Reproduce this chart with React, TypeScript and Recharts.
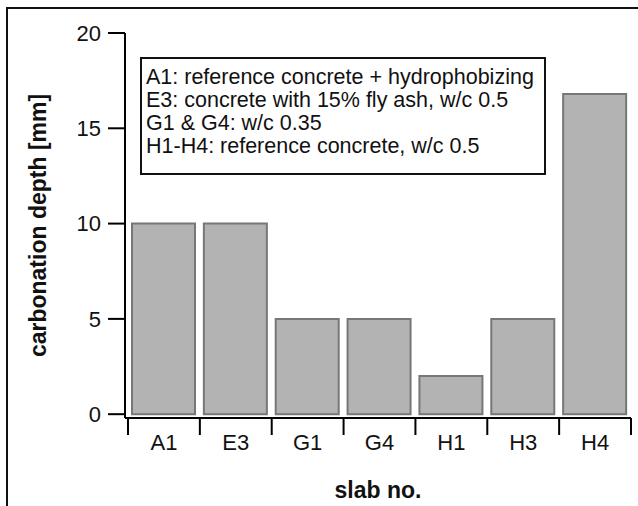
import { BarChart, Bar, XAxis, YAxis } from "recharts";

// slab ids on the x axis
const slabs = ["A1", "E3", "G1", "G4", "H1", "H3", "H4"];
// carbonation depth in mm
const depths = [10, 10, 5, 5, 2, 5, 16.8];
const yTicks = [0, 5, 10, 15, 20];
// text of the note box in the plot
const notes = [
  "A1: reference concrete + hydrophobizing",
  "E3: concrete with 15% fly ash, w/c 0.5",
  "G1 & G4: w/c 0.35",
  "H1-H4: reference concrete, w/c 0.5",
];

const data = slabs.map((slab, i) => ({ slab, depth: depths[i] }));

const FONT = "'Liberation Sans', Arial, sans-serif";
const X_START = 128;
const X_END = 631;
const BAND = (X_END - X_START) / slabs.length;

function SlabTick(props: any) {
  const { x, y, payload, index } = props;
  const last = index === slabs.length - 1;
  return (
    <g>
      <line x1={x - BAND / 2} y1={y} x2={x - BAND / 2} y2={y + 17} stroke="#000" strokeWidth={2} />
      {last && <line x1={x + BAND / 2} y1={y} x2={x + BAND / 2} y2={y + 17} stroke="#000" strokeWidth={2} />}
      <text x={x} y={y + 32} textAnchor="middle" fontSize={22} fill="#111" fontFamily={FONT}>
        {payload.value}
      </text>
    </g>
  );
}

export default function App() {
  return (
    <div style={{ position: "absolute", left: 0, top: 0, width: 638, height: 506, background: "#fff", overflow: "hidden" }}>
      {/* frame of the figure, only top and left show */}
      <div
        style={{
          position: "absolute",
          left: 6,
          top: 7,
          width: 700,
          height: 600,
          borderTop: "2px solid #111",
          borderLeft: "2px solid #111",
        }}
      />
      <BarChart
        width={638}
        height={506}
        data={data}
        margin={{ top: 33, right: 638 - X_END, left: 0, bottom: 0 }}
        barSize={63}
        style={{ position: "absolute", left: 0, top: 0, fontFamily: FONT }}
      >
        <XAxis
          dataKey="slab"
          height={88}
          padding={{ left: X_START - 125, right: 0 }}
          axisLine={{ stroke: "#000", strokeWidth: 2 }}
          tickLine={false}
          tickSize={0}
          tickMargin={0}
          tick={<SlabTick />}
          interval={0}
          label={{
            value: "slab no.",
            position: "insideBottom",
            offset: 8,
            style: { fontSize: 23, fontWeight: "bold", fill: "#111", fontFamily: FONT },
          }}
        />
        <YAxis
          width={125}
          domain={[-0.2, 20]}
          ticks={yTicks}
          allowDataOverflow
          axisLine={{ stroke: "#000", strokeWidth: 2 }}
          tickLine={{ stroke: "#000", strokeWidth: 2 }}
          tickSize={17}
          tickMargin={7}
          tick={{ fontSize: 22, fill: "#111", fontFamily: FONT }}
          label={{
            value: "carbonation depth [mm]",
            angle: -90,
            position: "insideLeft",
            offset: 38,
            style: { textAnchor: "middle", fontSize: 23, fontWeight: "bold", fill: "#111", fontFamily: FONT },
          }}
        />
        <Bar dataKey="depth" fill="#b3b3b3" stroke="#777" strokeWidth={2} isAnimationActive={false} />
      </BarChart>
      <div
        style={{
          position: "absolute",
          left: 140,
          top: 57,
          width: 398,
          height: 107,
          border: "2px solid #111",
          background: "#fff",
          padding: "7px 0 0 4px",
          boxSizing: "content-box",
          fontFamily: FONT,
          fontSize: 21.5,
          lineHeight: "23px",
          color: "#111",
          whiteSpace: "nowrap",
        }}
      >
        {notes.map((n) => (
          <div key={n}>{n}</div>
        ))}
      </div>
    </div>
  );
}
